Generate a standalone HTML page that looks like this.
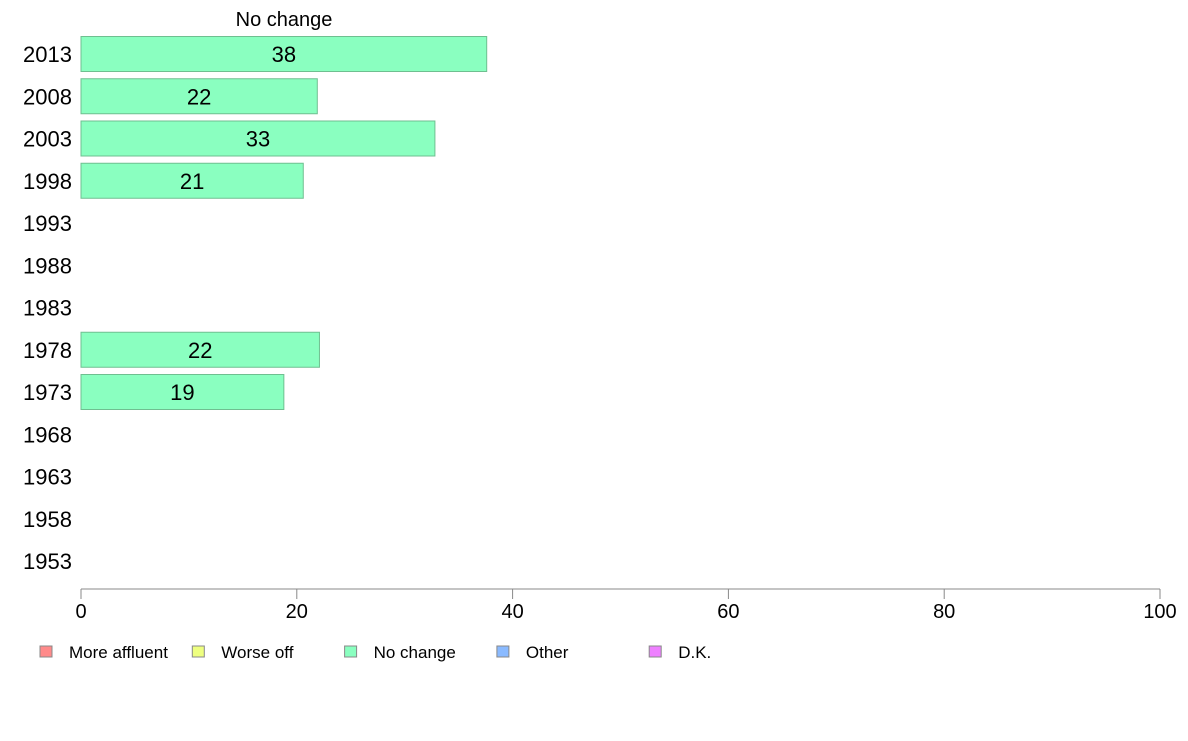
<!DOCTYPE html>
<html><head><meta charset="utf-8"><style>
body{margin:0;background:#fff;font-family:"Liberation Sans",Arial,sans-serif;}
svg text{font-family:"Liberation Sans",Arial,sans-serif;}
</style></head><body>
<svg id="chart" width="1188" height="736" xmlns="http://www.w3.org/2000/svg"></svg>
<script>
const categories=["2013","2008","2003","1998","1993","1988","1983","1978","1973","1968","1963","1958","1953"];
const values=[37.6,21.9,32.8,20.6,null,null,null,22.1,18.8,null,null,null,null];
const labels=["38","22","33","21","","","","22","19","","","",""];
const ticks=[0,20,40,60,80,100];
const legendNames=["More affluent","Worse off","No change","Other","D.K."];
const legendColors=["#ff8a8a","#eeff80","#8affc0","#8abaff","#ee80ff"];
const svg=document.getElementById('chart');
const NS="http://www.w3.org/2000/svg";
const x0=81,x1=1160;
const xs=v=>x0+(x1-x0)*v/100;
const ys=i=>54+i*42.25;
function mk(t,a,p){const e=document.createElementNS(NS,t);for(const k in a)e.setAttribute(k,a[k]);(p||svg).appendChild(e);return e;}
let t=mk('text',{x:284,y:26,'font-size':20,'text-anchor':'middle',fill:'#000'});


t.textContent="No change";
categories.forEach((c,i)=>{
 const l=mk('text',{x:72,y:ys(i)+8,'font-size':22,'text-anchor':'end',fill:'#000'});
 
 
 l.textContent=c;
 if(values[i]!=null){
  const r=mk('rect',{x:x0,y:ys(i)-17.5,width:xs(values[i])-x0,height:35,fill:'#8affc0',stroke:'#6fbf90','stroke-width':1});
  
  
  const v=mk('text',{x:(x0+xs(values[i]))/2,y:ys(i)+8,'font-size':22,'text-anchor':'middle',fill:'#000'});
  
  
  v.textContent=labels[i];
 }
});
const ax=mk('line',{x1:x0,x2:x1,y1:589,y2:589,stroke:'#888','stroke-width':1});


ticks.forEach(v=>{
 const tk=mk('line',{x1:xs(v),x2:xs(v),y1:589,y2:599,stroke:'#888','stroke-width':1});
 
 
 const tl=mk('text',{x:xs(v),y:618,'font-size':20,'text-anchor':'middle',fill:'#000'});
 
 
 tl.textContent=v;
});
legendNames.forEach((n,i)=>{
 const lx=40+i*152.3;
 const g=mk('g',{});
 
 
 mk('rect',{x:lx,y:646,width:12,height:11,fill:legendColors[i],stroke:'#888','stroke-width':1},g);
 const lt=mk('text',{x:lx+29,y:658,'font-size':17,fill:'#000'},g);
 lt.textContent=n;
});
</script>
</body></html>
